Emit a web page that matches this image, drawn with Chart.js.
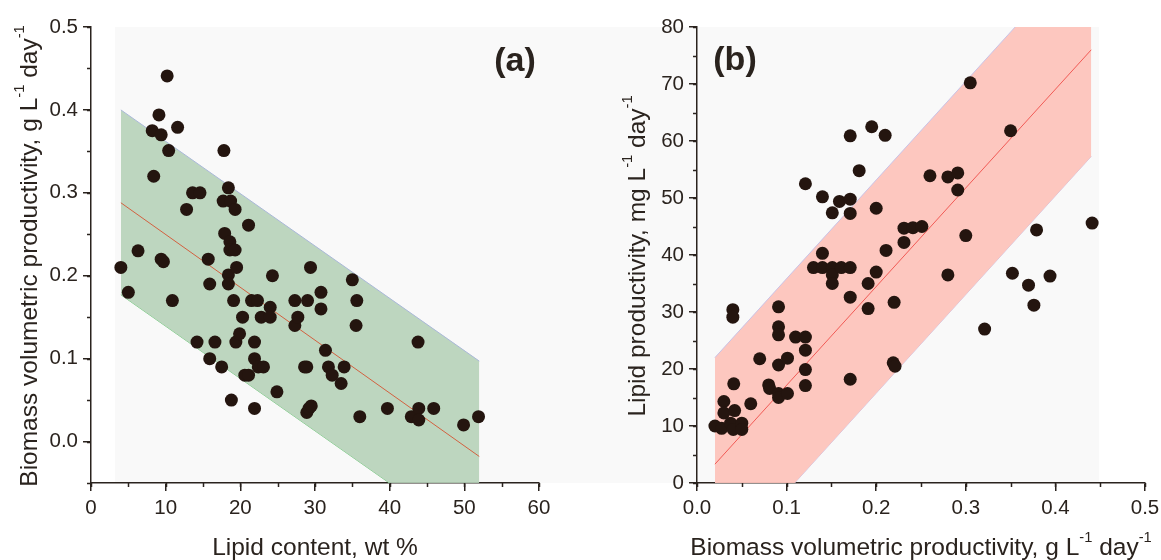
<!DOCTYPE html>
<html>
<head>
<meta charset="utf-8">
<script src="https://cdn.jsdelivr.net/npm/chart.js@4.4.0/dist/chart.umd.min.js"></script>
<style>
  body { margin:0; background:#fff; width:1161px; height:560px; position:relative; overflow:hidden; }
  #bg { position:absolute; left:115px; top:27px; width:984px; height:456px; background:#f9f9f9; }
  #wrapA { position:absolute; left:0; top:0; width:560px; height:560px; }
  #wrapB { position:absolute; left:580px; top:0; width:581px; height:560px; }
</style>
</head>
<body>
<div id="bg"></div>
<div id="wrapA"><canvas id="chartA"></canvas></div>
<div id="wrapB"><canvas id="chartB"></canvas></div>
<script>
// panel (a): lipid content (wt %) vs biomass productivity (g/L/day)
const lipidContent = [4.0,5.0,6.3,8.2,8.4,9.1,9.4,9.4,9.7,10.2,10.4,10.9,11.6,12.8,13.6,14.2,14.6,15.7,15.9,15.9,
  16.6,17.5,17.7,17.8,17.9,18.4,18.4,18.4,18.6,18.7,18.6,18.8,19.1,19.3,19.3,19.4,19.5,19.9,20.3,20.6,
  21.1,21.1,21.5,21.9,21.9,21.9,22.3,22.4,22.8,23.1,24.0,24.0,24.3,24.9,27.3,27.3,27.7,28.6,28.9,28.9,
  29.0,29.2,29.5,29.4,30.8,30.8,31.4,31.8,32.3,33.5,33.9,35.0,35.5,35.6,36.0,39.7,42.9,43.8,43.9,43.9,
  45.9,49.9,51.9];
const biomassA = [0.210,0.180,0.230,0.375,0.320,0.394,0.370,0.220,0.217,0.441,0.351,0.170,0.379,0.280,0.300,0.120,0.300,0.220,0.190,0.100,
  0.120,0.090,0.290,0.351,0.251,0.306,0.201,0.190,0.241,0.290,0.231,0.050,0.170,0.280,0.231,0.120,0.210,0.130,0.150,0.080,
  0.261,0.080,0.170,0.120,0.100,0.040,0.170,0.090,0.150,0.090,0.162,0.150,0.200,0.060,0.170,0.140,0.150,0.090,0.090,0.035,
  0.170,0.040,0.043,0.210,0.180,0.160,0.110,0.090,0.080,0.070,0.090,0.195,0.140,0.170,0.030,0.040,0.030,0.120,0.040,0.026,
  0.040,0.020,0.030];
const fitAx = [4, 52];
const fitA = [0.288, -0.018];
const upperA = [0.400, 0.097];
const lowerA = [0.177, -0.126];

// panel (b): biomass productivity (g/L/day) vs lipid productivity (mg/L/day)
const biomassB = [0.020,0.0275,0.030,0.030,0.0375,0.0405,0.040,0.040,0.041,0.042,0.050,0.050,0.060,0.070,0.080,0.081,
  0.091,0.091,0.091,0.091,0.091,0.091,0.101,0.101,0.110,0.121,0.121,0.121,0.121,0.121,0.130,0.140,0.140,0.140,
  0.151,0.151,0.151,0.151,0.161,0.159,0.171,0.171,0.171,0.171,0.171,0.171,0.181,0.191,0.191,0.195,0.200,0.200,
  0.210,0.211,0.219,0.221,0.220,0.231,0.231,0.241,0.251,0.260,0.280,0.280,0.291,0.291,0.300,0.305,0.321,0.350,
  0.352,0.370,0.376,0.379,0.394,0.441];
const lipidProd = [10.0,9.6,14.3,12.3,10.5,9.4,30.4,29.1,17.4,12.7,10.5,9.4,13.9,21.8,17.2,16.6,
  30.9,27.4,26.0,20.7,15.7,15.0,21.9,15.7,25.6,25.6,23.3,19.9,17.1,52.5,37.8,37.8,40.3,50.2,
  37.8,36.5,35.0,47.4,37.8,49.4,37.8,49.8,47.3,60.9,32.6,18.2,54.8,35.0,30.6,62.5,48.2,37.0,
  61.0,40.8,21.1,20.5,31.7,44.7,42.2,44.8,45.0,53.9,53.7,36.5,54.4,51.4,43.4,70.2,27.0,61.8,
  36.8,34.7,31.2,44.4,36.3,45.6];
const fitBx = [0.02, 0.44];
const fitB = [3.3, 76.0];
const upperB = [22.0, 94.7];
const lowerB = [-15.4, 57.3];

// tick labels
const ticksAx = [0, 10, 20, 30, 40, 50, 60];
const ticksAy = [0.0, 0.1, 0.2, 0.3, 0.4, 0.5];
const ticksBx = [0.0, 0.1, 0.2, 0.3, 0.4, 0.5];
const ticksBy = [0, 10, 20, 30, 40, 50, 60, 70, 80];

const INK = '#2a231e';
const DOT = '#24150f';
const FONT = '"Liberation Sans", Arial, sans-serif';

function pts(xs, ys) { return xs.map((x, i) => ({x: x, y: ys[i]})); }

// text with superscripts, parts = [[text, isSup], ...]
function richText(ctx, parts, cx, cy, size, rot) {
  ctx.save();
  ctx.translate(cx, cy);
  ctx.rotate(rot);
  ctx.fillStyle = INK;
  ctx.textBaseline = 'middle';
  ctx.textAlign = 'left';
  let total = 0;
  const ws = parts.map(p => {
    ctx.font = (p[1] ? size * 0.6 : size) + 'px ' + FONT;
    const w = ctx.measureText(p[0]).width;
    total += w;
    return w;
  });
  let x = -total / 2;
  parts.forEach((p, i) => {
    ctx.font = (p[1] ? size * 0.6 : size) + 'px ' + FONT;
    ctx.fillText(p[0], x, p[1] ? -size * 0.42 : 0);
    x += ws[i];
  });
  ctx.restore();
}

function decor(o) {
  return {
    id: 'decor',
    afterDraw(chart) {
      const ctx = chart.ctx;
      const xs = chart.scales.x, ys = chart.scales.y;
      const a = chart.chartArea;
      ctx.save();
      ctx.strokeStyle = INK;
      ctx.lineWidth = 1.5;
      // minor ticks
      for (let v = xs.min; v <= xs.max + 1e-9; v += o.minorX) {
        const px = Math.round(xs.getPixelForValue(v)) + 0.5;
        ctx.beginPath(); ctx.moveTo(px, a.bottom); ctx.lineTo(px, a.bottom + 4); ctx.stroke();
      }
      for (let v = o.minorYStart; v <= ys.max + 1e-9; v += o.minorY) {
        const py = Math.round(ys.getPixelForValue(v)) + 0.5;
        ctx.beginPath(); ctx.moveTo(a.left, py); ctx.lineTo(a.left - 4, py); ctx.stroke();
      }
      ctx.restore();
      const mid = (a.left + a.right) / 2;
      richText(ctx, o.xTitle, mid, 548, 24.5, 0);
      richText(ctx, o.yTitle, o.yTitleX, 256, 24.5, -Math.PI / 2);
      ctx.save();
      ctx.fillStyle = INK;
      ctx.font = 'bold 34px ' + FONT;
      ctx.textAlign = 'center';
      ctx.textBaseline = 'middle';
      ctx.fillText(o.panel, o.panelX, o.panelY);
      ctx.restore();
    }
  };
}

function axis(min, max, ticks, fmt, size) {
  return {
    type: 'linear', min: min, max: max,
    afterBuildTicks: s => { s.ticks = ticks.map(v => ({value: v})); },
    afterFit: size,
    border: {display: true, color: INK, width: 1.5},
    grid: {drawOnChartArea: false, color: INK, lineWidth: 1.5, tickLength: 8},
    ticks: {color: INK, font: {family: FONT, size: 20.5}, padding: 5, maxRotation: 0, callback: fmt}
  };
}

// fixed axis sizes so the plot areas sit where the reference has them
function fixX(h) { return s => { s.height = h; s.paddingLeft = 0; s.paddingRight = 0; }; }
function fixY(w) { return s => { s.width = w; s.paddingTop = 0; s.paddingBottom = 0; }; }

function datasets(scatterPts, fx, f, up, lo, fillCol, upCol, loCol, fitCol) {
  return [
    {type: 'scatter', data: scatterPts, backgroundColor: DOT, borderWidth: 0, pointRadius: 6.5, order: 0},
    {type: 'line', data: pts(fx, f), borderColor: fitCol, borderWidth: 1, pointRadius: 0, fill: false, order: 1},
    {type: 'line', data: pts(fx, up), borderColor: upCol, borderWidth: 1, pointRadius: 0, backgroundColor: fillCol, fill: '+1', order: 2},
    {type: 'line', data: pts(fx, lo), borderColor: loCol, borderWidth: 1, pointRadius: 0, fill: false, order: 2}
  ];
}

const common = {
  responsive: true, maintainAspectRatio: false, animation: false,
  plugins: {legend: {display: false}, tooltip: {enabled: false}}
};

new Chart(document.getElementById('chartA'), {
  type: 'scatter',
  data: {datasets: datasets(pts(lipidContent, biomassA), fitAx, fitA, upperA, lowerA,
    'rgba(182,209,184,0.9)', '#a9b7d8', '#7ccc86', '#d2603f')},
  options: Object.assign({}, common, {
    layout: {padding: {top: 27, right: 21, left: 0, bottom: 0}},
    scales: {
      x: axis(0, 60, ticksAx, v => String(v), fixX(77)),
      y: axis(-0.05, 0.5, ticksAy, v => v.toFixed(1), fixY(91))
    }
  }),
  plugins: [decor({
    minorX: 5, minorY: 0.05, minorYStart: -0.05,
    xTitle: [['Lipid content, wt %', false]],
    yTitle: [['Biomass volumetric productivity, g L', false], ['-1', true], [' day', false], ['-1', true]],
    yTitleX: 30, panel: '(a)', panelX: 515, panelY: 62
  })]
});

new Chart(document.getElementById('chartB'), {
  type: 'scatter',
  data: {datasets: datasets(pts(biomassB, lipidProd), fitBx, fitB, upperB, lowerB,
    'rgba(253,196,188,0.95)', '#c9c2e6', '#cbc4e8', '#f05a55')},
  options: Object.assign({}, common, {
    layout: {padding: {top: 27, right: 16, left: 0, bottom: 0}},
    scales: {
      x: axis(0, 0.5, ticksBx, v => v.toFixed(1), fixX(77)),
      y: axis(0, 80, ticksBy, v => String(v), fixY(117))
    }
  }),
  plugins: [decor({
    minorX: 0.05, minorY: 5, minorYStart: 0,
    xTitle: [['Biomass volumetric productivity, g L', false], ['-1', true], [' day', false], ['-1', true]],
    yTitle: [['Lipid productivity, mg L', false], ['-1', true], [' day', false], ['-1', true]],
    yTitleX: 58, panel: '(b)', panelX: 155, panelY: 61
  })]
});
</script>
</body>
</html>
